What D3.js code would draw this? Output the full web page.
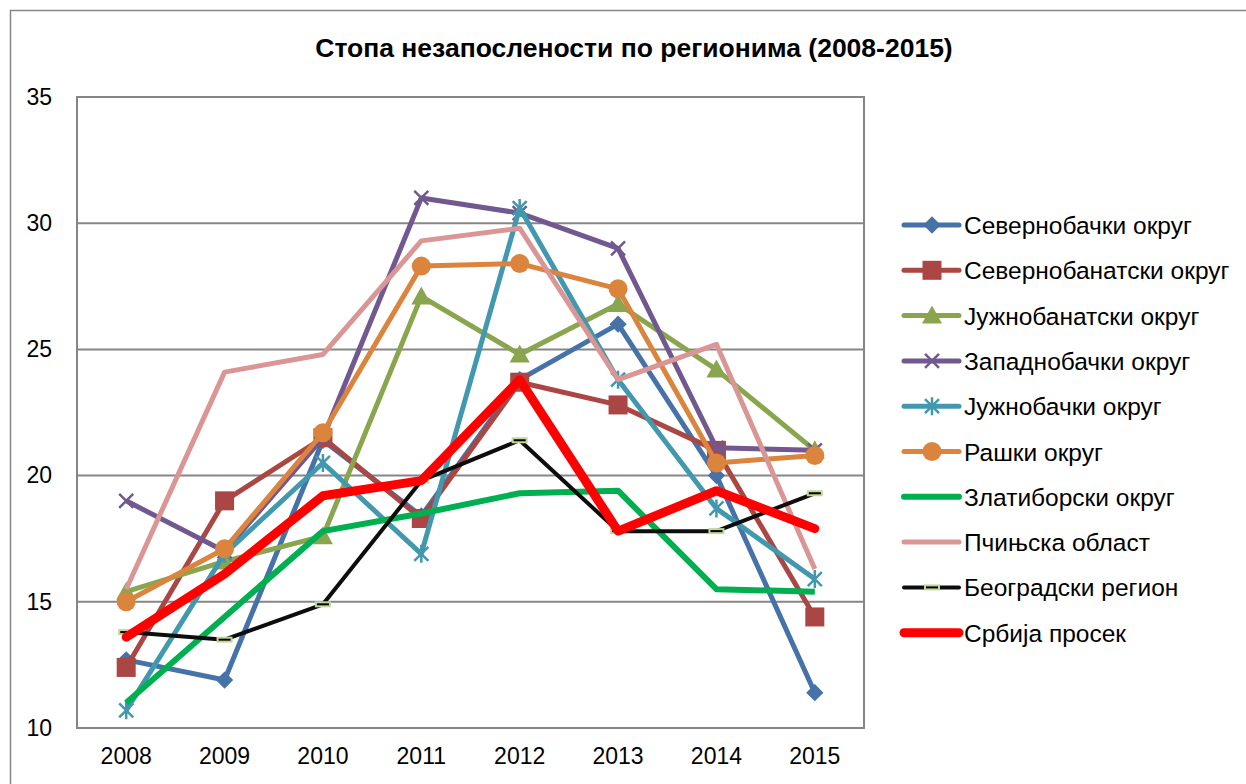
<!DOCTYPE html>
<html>
<head>
<meta charset="utf-8">
<script src="https://cdn.jsdelivr.net/npm/d3@7.9.0/dist/d3.min.js"></script>
<style>
  body { margin: 0; background: #fff; }
  svg { display: block; }
  svg text { font-family: "Liberation Sans", Arial, sans-serif; fill: #000; }
</style>
</head>
<body>
<svg id="chart" width="1246" height="784"></svg>
<script>
const years = ['2008', '2009', '2010', '2011', '2012', '2013', '2014', '2015'];
const yTicks = [10, 15, 20, 25, 30, 35];

const severnobacki = [12.7, 11.9, 21.4, 18.4, 23.8, 26.0, 20.0, 11.4];
const severnobanatski = [12.4, 19.0, 21.5, 18.3, 23.7, 22.8, 21.0, 14.4];
const juznobanatski = [15.4, 16.6, 17.6, 27.1, 24.8, 26.8, 24.2, 21.0];
const zapadnobacki = [19.0, 17.0, 21.5, 31.0, 30.4, 29.0, 21.1, 21.0];
const juznobacki = [10.7, 16.9, 20.5, 16.9, 30.6, 23.8, 18.7, 15.9];
const raski = [15.0, 17.1, 21.7, 28.3, 28.4, 27.4, 20.5, 20.8];
const zlatiborski = [11.0, 14.4, 17.8, 18.5, 19.3, 19.4, 15.5, 15.4];
const pcinjska = [15.5, 24.1, 24.8, 29.3, 29.8, 23.8, 25.2, 16.3];
const beogradski = [13.8, 13.5, 14.9, 19.8, 21.4, 17.8, 17.8, 19.3];
const srbija = [13.6, 16.1, 19.2, 19.8, 23.8, 17.8, 19.4, 17.9];

const series = [
  { name: 'Севернобачки округ', values: severnobacki, color: '#4572a7', width: 5, marker: 'diamond' },
  { name: 'Севернобанатски округ', values: severnobanatski, color: '#aa4643', width: 5, marker: 'square' },
  { name: 'Јужнобанатски округ', values: juznobanatski, color: '#89a54e', width: 5, marker: 'triangle' },
  { name: 'Западнобачки округ', values: zapadnobacki, color: '#71588f', width: 5, marker: 'x' },
  { name: 'Јужнобачки округ', values: juznobacki, color: '#4198af', width: 5, marker: 'star' },
  { name: 'Рашки округ', values: raski, color: '#db843d', width: 5, marker: 'circle' },
  { name: 'Златиборски округ', values: zlatiborski, color: '#00b050', width: 6, marker: null },
  { name: 'Пчињска област', values: pcinjska, color: '#d99694', width: 5, marker: null },
  { name: 'Београдски регион', values: beogradski, color: '#0d0d0d', width: 4, marker: 'dash' },
  { name: 'Србија просек', values: srbija, color: '#ff0000', width: 9, marker: null, cap: 'round' }
];

const svg = d3.select('#chart');
const plot = { left: 77, right: 864, top: 97, bottom: 728 };

// outer chart frame
svg.append('rect')
  .attr('x', 10.5).attr('y', 10.5)
  .attr('width', 1250).attr('height', 800)
  .attr('fill', 'none').attr('stroke', '#868686').attr('stroke-width', 1.5);

svg.append('text')
  .attr('x', 634).attr('y', 57)
  .attr('text-anchor', 'middle')
  .attr('font-size', 26.5).attr('font-weight', 'bold')
  .text('Стопа незапослености по регионима (2008-2015)');

const x = d3.scaleBand().domain(years).range([plot.left, plot.right]);
const cx = (d) => x(d) + x.bandwidth() / 2;
const y = d3.scaleLinear().domain([10, 35]).range([plot.bottom, plot.top]);

// gridlines
svg.append('g')
  .selectAll('line')
  .data(yTicks.slice(1, -1))
  .join('line')
  .attr('x1', plot.left).attr('x2', plot.right)
  .attr('y1', (d) => y(d)).attr('y2', (d) => y(d))
  .attr('stroke', '#868686').attr('stroke-width', 2);

svg.append('rect')
  .attr('x', plot.left).attr('y', plot.top)
  .attr('width', plot.right - plot.left).attr('height', plot.bottom - plot.top)
  .attr('fill', 'none').attr('stroke', '#868686').attr('stroke-width', 2);

// axes labels
const yAxis = svg.append('g')
  .attr('transform', `translate(${plot.left - 25},0)`)
  .call(d3.axisLeft(y).tickValues(yTicks).tickSize(0).tickPadding(0));
yAxis.attr('font-family', null).attr('font-size', null);
yAxis.select('.domain').remove();
yAxis.selectAll('text').attr('font-size', 23);

const xAxis = svg.append('g')
  .attr('transform', `translate(0,${plot.bottom + 20})`)
  .call(d3.axisBottom(x).tickSize(0).tickPadding(0));
xAxis.attr('font-family', null).attr('font-size', null);
xAxis.select('.domain').remove();
xAxis.selectAll('text').attr('font-size', 23);

function drawMarker(g, type, color) {
  if (type === 'diamond') {
    g.append('path').attr('d', d3.symbol(d3.symbolDiamond2, 190)()).attr('fill', color);
  } else if (type === 'square') {
    g.append('rect').attr('x', -9.5).attr('y', -9.5).attr('width', 19).attr('height', 19).attr('fill', color);
  } else if (type === 'triangle') {
    g.append('path').attr('d', 'M0,-10L10,8L-10,8Z').attr('fill', color);
  } else if (type === 'circle') {
    g.append('circle').attr('r', 9.5).attr('fill', color);
  } else if (type === 'x') {
    g.append('path').attr('d', 'M-7,-7L7,7M-7,7L7,-7').attr('stroke', color).attr('stroke-width', 2.5);
  } else if (type === 'star') {
    g.append('path').attr('d', 'M-7,-7L7,7M-7,7L7,-7M0,-9V9').attr('stroke', color).attr('stroke-width', 2.5);
  } else if (type === 'dash') {
    g.append('rect').attr('x', -8).attr('y', -3).attr('width', 16).attr('height', 6).attr('fill', '#c3d69b');
    g.append('line').attr('x1', -6).attr('x2', 6).attr('stroke', '#000').attr('stroke-width', 2);
  }
}

const line = d3.line().x((d, i) => cx(years[i])).y((d) => y(d));

series.forEach((s) => {
  const g = svg.append('g');
  g.append('path')
    .attr('d', line(s.values))
    .attr('fill', 'none')
    .attr('stroke', s.color)
    .attr('stroke-width', s.width)
    .attr('stroke-linejoin', 'round')
    .attr('stroke-linecap', s.cap || 'butt');
  if (s.marker) {
    s.values.forEach((v, i) => {
      const m = g.append('g').attr('transform', `translate(${cx(years[i])},${y(v)})`);
      drawMarker(m, s.marker, s.color);
    });
  }
});

// legend
const legend = svg.append('g');
series.forEach((s, idx) => {
  const ly = 225 + idx * 45.3;
  const item = legend.append('g').attr('transform', `translate(0,${ly})`);
  item.append('line')
    .attr('x1', 904).attr('x2', 959)
    .attr('stroke', s.color).attr('stroke-width', s.width)
    .attr('stroke-linecap', 'round');
  if (s.marker) {
    const m = item.append('g').attr('transform', 'translate(932,0)');
    drawMarker(m, s.marker, s.color);
  }
  item.append('text')
    .attr('x', 964).attr('y', 9)
    .attr('font-size', 24.5)
    .text(s.name);
});
</script>
</body>
</html>
